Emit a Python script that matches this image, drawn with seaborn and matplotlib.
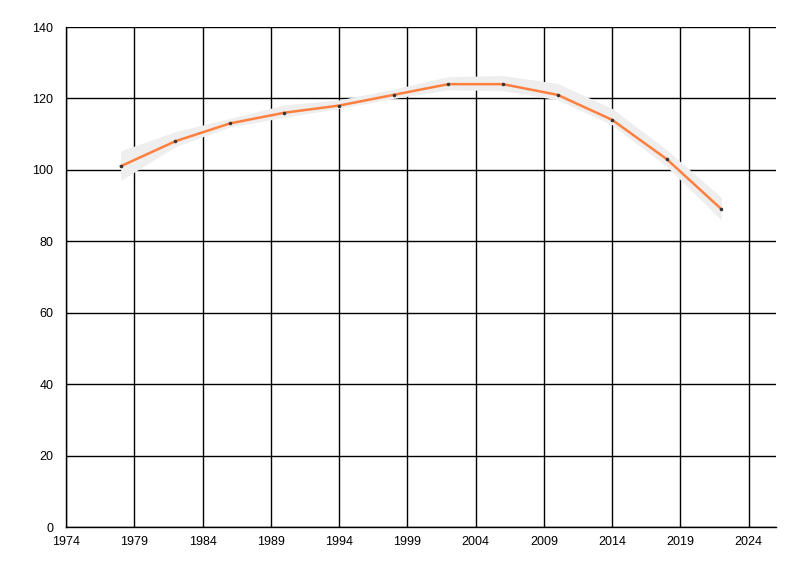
import matplotlib
matplotlib.use("Agg")
import matplotlib.pyplot as plt
import seaborn as sns
import pandas as pd

years = [1978, 1982, 1986, 1990, 1994, 1998, 2002, 2006, 2010, 2014, 2018, 2022]
values = [101, 108, 113, 116, 118, 121, 124, 124, 121, 114, 103, 89]
band_low = [97.0, 106.5, 112.0, 114.7, 117.2, 120.0, 122.4, 122.2, 119.6, 112.6, 100.9, 86.0]
band_high = [105.3, 110.7, 114.4, 118.2, 119.6, 122.6, 126.1, 126.4, 124.2, 117.2, 105.6, 92.3]
x_ticks = list(range(1974, 2025, 5))
y_ticks = [0, 20, 40, 60, 80, 100, 120, 140]

sns.set_theme(style="white")
plt.rcParams['font.family'] = ['Liberation Sans', 'DejaVu Sans']

df = pd.DataFrame({"year": years, "value": values})

fig = plt.figure(figsize=(8, 5.76), dpi=100)
ax = fig.add_axes([66/800, 49/576, 710/800, 500/576])

ax.fill_between(years, band_low, band_high, color="#EEEEEE", linewidth=0, zorder=3)
sns.lineplot(data=df, x="year", y="value", ax=ax, color="#FF7F3F", linewidth=1.8,
             marker="o", markersize=1.8, markerfacecolor="#333333",
             markeredgecolor="#333333", zorder=4)

ax.set_xlim(1974, 2026)
ax.set_ylim(0, 140)
ax.set_xticks(x_ticks)
ax.set_xticklabels([str(t) for t in x_ticks])
ax.set_yticks(y_ticks)
ax.set_yticklabels([str(t) for t in y_ticks])
ax.grid(True, color="black", linewidth=1)
ax.set_axisbelow(True)
ax.set_xlabel("")
ax.set_ylabel("")
for s in ["top", "right"]:
    ax.spines[s].set_visible(False)
for s in ["left", "bottom"]:
    ax.spines[s].set_color("black")
    ax.spines[s].set_linewidth(1)
ax.tick_params(axis="both", which="major", labelsize=9, colors="black",
               width=1, direction="out")
ax.tick_params(axis="y", length=7, pad=2)
ax.tick_params(axis="x", length=5, pad=1.5)

fig.savefig("out.png", dpi=100, facecolor="white")
